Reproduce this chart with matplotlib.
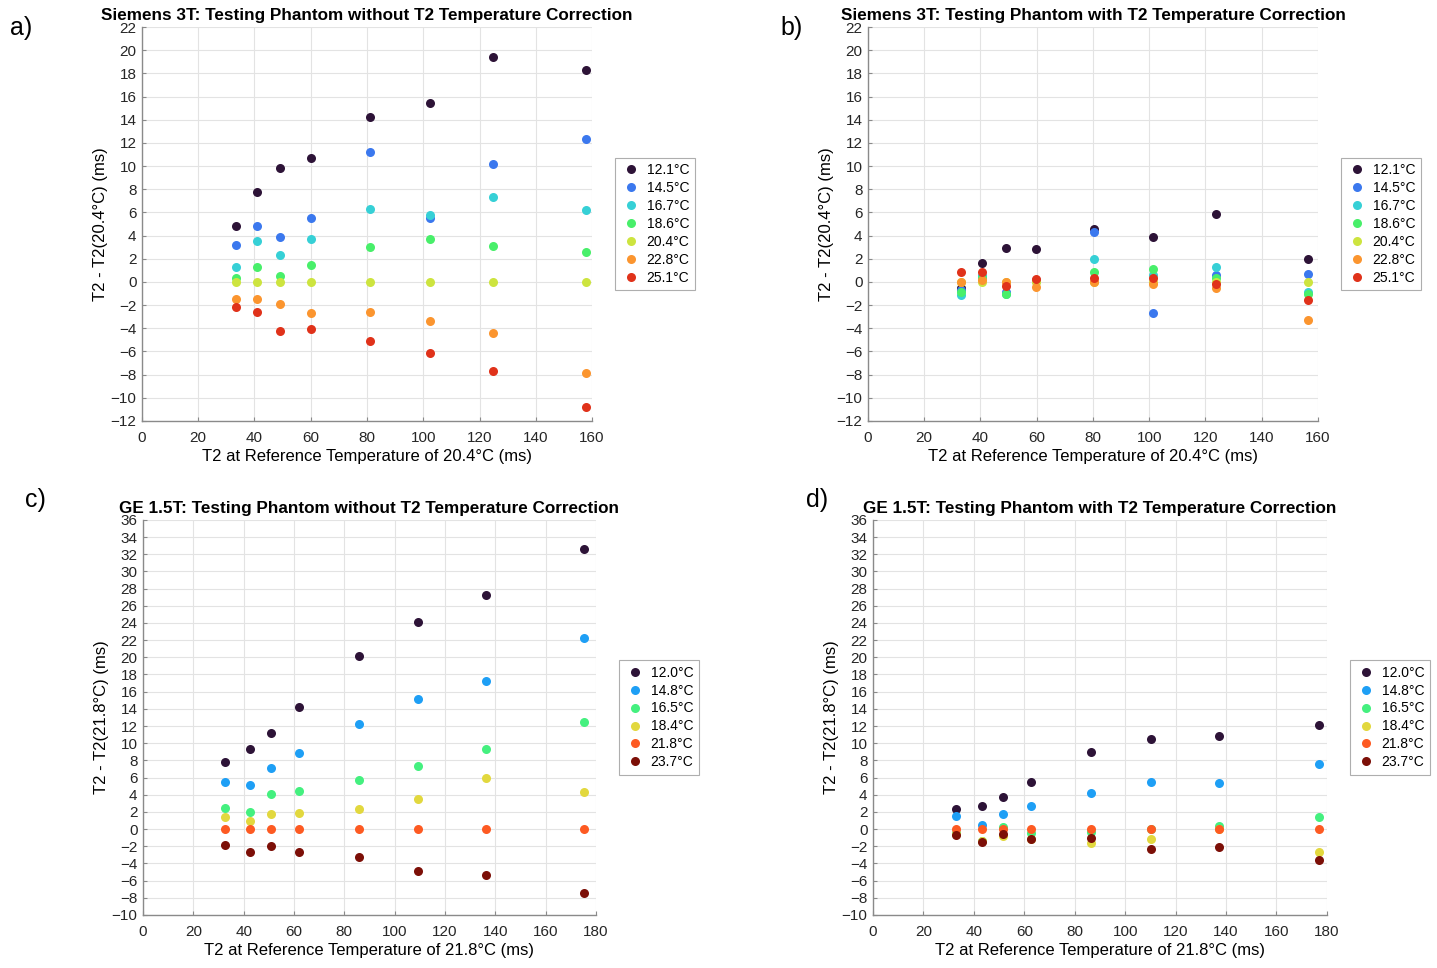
import matplotlib
matplotlib.use('Agg')
from matplotlib import pyplot as plt
import numpy as np

plt.rcParams['font.family'] = ['Liberation Sans', 'DejaVu Sans']

# Siemens 3T data
siemens_temps = ['12.1°C', '14.5°C', '16.7°C', '18.6°C', '20.4°C', '22.8°C', '25.1°C']
siemens_colors = ['#2d1337', '#3b78ee', '#36d0d6', '#48ef6a', '#cde43f', '#fb952f', '#e0321a']
siemens_x_a = [33.5, 41.0, 49.2, 60.2, 81.0, 102.4, 124.7, 157.7]
siemens_x_b = [33.2, 40.7, 48.9, 59.8, 80.3, 101.5, 123.7, 156.6]

siemens_without = [
    [4.8, 7.8, 9.8, 10.7, 14.2, 15.4, 19.4, 18.3],
    [3.2, 4.8, 3.9, 5.5, 11.2, 5.5, 10.2, 12.3],
    [1.3, 3.5, 2.3, 3.7, 6.3, 5.8, 7.3, 6.2],
    [0.3, 1.3, 0.5, 1.5, 3.0, 3.7, 3.1, 2.6],
    [0, 0, 0, 0, 0, 0, 0, 0],
    [-1.5, -1.5, -1.9, -2.7, -2.6, -3.4, -4.4, -7.9],
    [-2.2, -2.6, -4.2, -4.1, -5.1, -6.1, -7.7, -10.8],
]
siemens_with = [
    [-0.5, 1.6, 2.9, 2.85, 4.6, 3.9, 5.9, 2.0],
    [-0.7, 0.5, -0.9, 0.2, 4.3, -2.7, 0.6, 0.66],
    [-1.1, 0.5, -1.0, 0.1, 2.0, 0.6, 1.3, -0.9],
    [-0.9, 0.3, -1.0, 0.1, 0.9, 1.1, 0.3, -1.0],
    [0, 0, 0, 0, 0, 0, 0, 0],
    [0.0, 0.2, 0.0, -0.45, 0.0, -0.15, -0.55, -3.25],
    [0.9, 0.85, -0.35, 0.25, 0.3, 0.35, -0.15, -1.6],
]

# GE 1.5T data
ge_temps = ['12.0°C', '14.8°C', '16.5°C', '18.4°C', '21.8°C', '23.7°C']
ge_colors = ['#2d1337', '#1e9ff5', '#44f07f', '#e2d83e', '#fd5a22', '#7c0f07']
ge_x_c = [32.7, 42.6, 50.9, 62.2, 85.8, 109.3, 136.3, 175.1]
ge_x_d = [33.1, 43.2, 51.4, 62.8, 86.6, 110.3, 137.3, 176.7]

ge_without = [
    [7.8, 9.3, 11.2, 14.2, 20.2, 24.1, 27.2, 32.6],
    [5.5, 5.1, 7.1, 8.9, 12.2, 15.2, 17.2, 22.2],
    [2.4, 2.0, 4.1, 4.4, 5.7, 7.3, 9.3, 12.5],
    [1.4, 0.9, 1.8, 1.9, 2.3, 3.5, 5.9, 4.3],
    [0, 0, 0, 0, 0, 0, 0, 0],
    [-1.8, -2.7, -2.0, -2.7, -3.2, -4.9, -5.3, -7.5],
]
ge_with = [
    [2.3, 2.7, 3.7, 5.5, 9.0, 10.5, 10.8, 12.1],
    [1.5, 0.5, 1.7, 2.7, 4.2, 5.5, 5.4, 7.6],
    [-0.5, -1.4, 0.2, -0.4, -0.3, 0.0, 0.4, 1.4],
    [-0.6, -1.4, -0.8, -1.2, -1.6, -1.2, 0.0, -2.7],
    [0, 0, 0, 0, 0, 0, 0, 0],
    [-0.7, -1.5, -0.55, -1.1, -1.0, -2.3, -2.1, -3.6],
]


def draw_panel(ax, x, series, labels, colors, title, xmax, ylim, ref):
    for vals, lab, col in zip(series, labels, colors):
        ax.plot(x, vals, 'o', color=col, markersize=6.5, markeredgewidth=0, label=lab)
    ax.set_xlim(0, xmax)
    ax.set_ylim(*ylim)
    ax.set_xticks(np.arange(0, xmax + 1, 20))
    ax.set_yticks(np.arange(ylim[0], ylim[1] + 1, 2))
    ax.grid(True, color='#e3e3e3', linewidth=0.8)
    ax.set_axisbelow(True)
    for s in ['top', 'right']:
        ax.spines[s].set_visible(False)
    for s in ['left', 'bottom']:
        ax.spines[s].set_color('#8a8a8a')
        ax.spines[s].set_linewidth(1.0)
    ax.tick_params(direction='in', length=3, color='#8a8a8a', labelsize=11,
                   labelcolor='#262626', pad=4)
    ax.tick_params(axis='x', pad=7)
    ax.set_title(title, fontsize=12.3, fontweight='bold', pad=5)
    ax.set_xlabel('T2 at Reference Temperature of %s°C (ms)' % ref, fontsize=12, labelpad=3)
    ax.set_ylabel('T2 - T2(%s°C) (ms)' % ref, fontsize=12, labelpad=2)
    leg = ax.legend(loc='center left', bbox_to_anchor=(1.035, 0.5), fontsize=10,
                    frameon=True, fancybox=False, edgecolor='#9a9a9a',
                    handletextpad=0.3, borderpad=0.4, labelspacing=0.28,
                    handlelength=1.6)
    leg.get_frame().set_linewidth(0.8)


fig = plt.figure(figsize=(14.37, 9.68), dpi=100)
ax_a = fig.add_axes([0.0988, 0.5651, 0.3132, 0.4070])
ax_b = fig.add_axes([0.6040, 0.5651, 0.3132, 0.4070])
ax_c = fig.add_axes([0.0995, 0.0548, 0.3152, 0.4081])
ax_d = fig.add_axes([0.6075, 0.0548, 0.3159, 0.4081])

draw_panel(ax_a, siemens_x_a, siemens_without, siemens_temps, siemens_colors,
           'Siemens 3T: Testing Phantom without T2 Temperature Correction', 160, (-12, 22), '20.4')
draw_panel(ax_b, siemens_x_b, siemens_with, siemens_temps, siemens_colors,
           'Siemens 3T: Testing Phantom with T2 Temperature Correction', 160, (-12, 22), '20.4')
draw_panel(ax_c, ge_x_c, ge_without, ge_temps, ge_colors,
           'GE 1.5T: Testing Phantom without T2 Temperature Correction', 180, (-10, 36), '21.8')
draw_panel(ax_d, ge_x_d, ge_with, ge_temps, ge_colors,
           'GE 1.5T: Testing Phantom with T2 Temperature Correction', 180, (-10, 36), '21.8')

fig.text(10 / 1437, 1 - 28 / 968, 'a)', fontsize=18, va='center')
fig.text(780 / 1437, 1 - 28 / 968, 'b)', fontsize=18, va='center')
fig.text(25 / 1437, 1 - 500 / 968, 'c)', fontsize=18, va='center')
fig.text(806 / 1437, 1 - 500 / 968, 'd)', fontsize=18, va='center')

fig.savefig('out.png', dpi=100, facecolor='white')
